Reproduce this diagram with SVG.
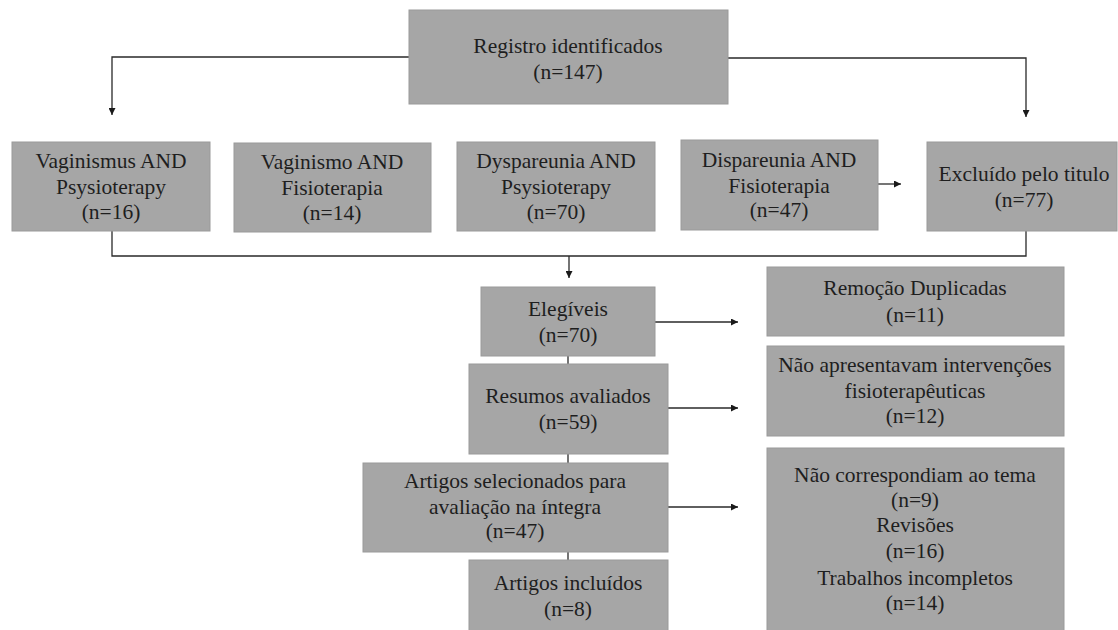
<svg xmlns="http://www.w3.org/2000/svg" width="1118" height="630" viewBox="0 0 1118 630">
<style>
.box{fill:#a6a6a6;stroke:#9a9a9a;stroke-width:1}
.t{font-family:"Liberation Serif","Times New Roman",serif;font-size:21.5px;fill:#1e1e1e;text-anchor:middle}
.c{fill:none;stroke:#2a2a2a;stroke-width:1.3}
</style>
<defs>
<marker id="ah" markerUnits="userSpaceOnUse" markerWidth="8" markerHeight="7" refX="7" refY="3.5" orient="auto">
<path d="M0,0 L7,3.5 L0,7 z" fill="#1a1a1a"/>
</marker>
</defs>
<rect width="1118" height="630" fill="#ffffff"/>
<g id="connectors">
<path class="c" d="M409,57 H112 V115" marker-end="url(#ah)"/>
<path class="c" d="M728,58 H1026 V117" marker-end="url(#ah)"/>
<path class="c" d="M878,184 H901" marker-end="url(#ah)"/>
<path class="c" d="M112,231 V256 H1026 V231"/>
<path class="c" d="M569,256 V278" marker-end="url(#ah)"/>
<path class="c" d="M568,356 V364"/>
<path class="c" d="M568,454 V463"/>
<path class="c" d="M568,552 V560"/>
<path class="c" d="M655,322 H738" marker-end="url(#ah)"/>
<path class="c" d="M668,408 H738" marker-end="url(#ah)"/>
<path class="c" d="M668,507 H738" marker-end="url(#ah)"/>
</g>
<g id="n-registro">
<rect class="box" x="409" y="10" width="319" height="94"/>
<text class="t" x="568" y="53">Registro identificados</text>
<text class="t" x="568" y="79">(n=147)</text>
</g>
<g id="n-vaginismus">
<rect class="box" x="12" y="142" width="198" height="89"/>
<text class="t" x="111" y="168">Vaginismus AND</text>
<text class="t" x="111" y="194">Psysioterapy</text>
<text class="t" x="111" y="219">(n=16)</text>
</g>
<g id="n-vaginismo">
<rect class="box" x="234" y="143" width="197" height="89"/>
<text class="t" x="332" y="169">Vaginismo AND</text>
<text class="t" x="332" y="195">Fisioterapia</text>
<text class="t" x="332" y="220">(n=14)</text>
</g>
<g id="n-dyspareunia">
<rect class="box" x="457" y="142" width="198" height="89"/>
<text class="t" x="556" y="168">Dyspareunia AND</text>
<text class="t" x="556" y="194">Psysioterapy</text>
<text class="t" x="556" y="219">(n=70)</text>
</g>
<g id="n-dispareunia">
<rect class="box" x="681" y="140" width="197" height="90"/>
<text class="t" x="779" y="167">Dispareunia AND</text>
<text class="t" x="779" y="193">Fisioterapia</text>
<text class="t" x="779" y="217">(n=47)</text>
</g>
<g id="n-excluido">
<rect class="box" x="927" y="142" width="190" height="89"/>
<text class="t" x="1024" y="181">Excluído pelo titulo</text>
<text class="t" x="1024" y="207">(n=77)</text>
</g>
<g id="n-elegiveis">
<rect class="box" x="481" y="287" width="174" height="69"/>
<text class="t" x="568" y="316">Elegíveis</text>
<text class="t" x="568" y="342">(n=70)</text>
</g>
<g id="n-resumos">
<rect class="box" x="469" y="364" width="199" height="90"/>
<text class="t" x="568" y="403">Resumos avaliados</text>
<text class="t" x="568" y="429">(n=59)</text>
</g>
<g id="n-artigos-sel">
<rect class="box" x="363" y="463" width="305" height="89"/>
<text class="t" x="515" y="488">Artigos selecionados para</text>
<text class="t" x="515" y="514">avaliação na íntegra</text>
<text class="t" x="515" y="538">(n=47)</text>
</g>
<g id="n-artigos-inc">
<rect class="box" x="469" y="560" width="199" height="75"/>
<text class="t" x="568" y="590">Artigos incluídos</text>
<text class="t" x="568" y="616">(n=8)</text>
</g>
<g id="n-remocao">
<rect class="box" x="767" y="267" width="297" height="69"/>
<text class="t" x="915" y="295">Remoção Duplicadas</text>
<text class="t" x="915" y="322">(n=11)</text>
</g>
<g id="n-nao-apresentavam">
<rect class="box" x="767" y="346" width="297" height="90"/>
<text class="t" x="915" y="372">Não apresentavam intervenções</text>
<text class="t" x="915" y="398">fisioterapêuticas</text>
<text class="t" x="915" y="423">(n=12)</text>
</g>
<g id="n-nao-correspondiam">
<rect class="box" x="767" y="448" width="297" height="187"/>
<text class="t" x="915" y="482">Não correspondiam ao tema</text>
<text class="t" x="915" y="507">(n=9)</text>
<text class="t" x="915" y="532">Revisões</text>
<text class="t" x="915" y="558">(n=16)</text>
<text class="t" x="915" y="585">Trabalhos incompletos</text>
<text class="t" x="915" y="610">(n=14)</text>
</g>
</svg>
